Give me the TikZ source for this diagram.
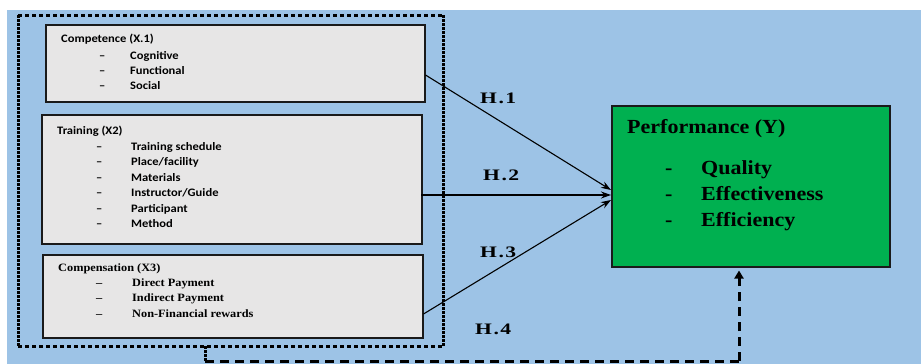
\documentclass[tikz,border=0pt]{standalone}
\usepackage{fontspec}
\setmainfont{Liberation Serif}[FakeStretch=1.1]
\newfontfamily\calfont{Carlito}[FakeStretch=1.1,Ligatures=TeX]
\newfontfamily\hfont{Liberation Serif}[FakeStretch=1.35]
\usetikzlibrary{arrows.meta}
\definecolor{bgblue}{HTML}{9DC3E6}
\definecolor{boxgray}{HTML}{E7E6E6}
\definecolor{perfgreen}{HTML}{00B050}
\definecolor{edge}{HTML}{1A1A1A}
\tikzset{
  lbox/.style={draw=edge, line width=1.5pt, fill=boxgray, anchor=north west, inner sep=0pt},
  pbox/.style={draw=edge, line width=1.5pt, fill=perfgreen, anchor=north west, inner sep=0pt},
  txt/.style={anchor=base west, inner sep=0pt},
  caltxt/.style={txt, font=\calfont\bfseries\fontsize{11.4}{13}\selectfont},
  tmstxt/.style={txt, font=\bfseries\fontsize{11.2}{13}\selectfont},
  bigtxt/.style={txt, font=\bfseries\fontsize{20}{24}\selectfont},
  hlabel/.style={txt, font=\hfont\bfseries\fontsize{16}{18}\selectfont},
  conn/.style={draw=black, line width=1.1pt, -{Stealth[length=10pt,width=7pt]}},
  grpH/.style={draw=black, line width=3pt, dash pattern=on 4pt off 3pt},
  grpV/.style={draw=black, line width=3pt, dash pattern=on 2.5pt off 1.5pt},
  fbdash/.style={draw=black, line width=3pt, dash pattern=on 9pt off 6pt},
}
\begin{document}
\begin{tikzpicture}[x=1pt,y=-1pt]
\useasboundingbox (0,0) rectangle (921,364);
\fill[white] (0,0) rectangle (921,364);
\fill[bgblue] (7,10) rectangle (921,364);

% group (dotted) frame
\node[anchor=north west, minimum width=425pt, minimum height=331pt, inner sep=0pt] (grp) at (18,15) {};
\draw[grpH] (grp.north west) -- (grp.north east);
\draw[grpH] (grp.south west) -- (grp.south east);
\draw[grpV] (grp.north west) -- (grp.south west);
\draw[grpV] (grp.north east) -- (grp.south east);

% Box 1
\node[lbox, minimum width=379pt, minimum height=77pt] (b1) at (45,24) {};
\node[caltxt] (b1t) at (61,42) {Competence (X.1)};
\node[caltxt] (b1d1) at (99,59) {\textendash};
\node[caltxt] (b1i1) at (130,59) {Cognitive};
\node[caltxt] (b1d2) at (99,74) {\textendash};
\node[caltxt] (b1i2) at (130,74) {Functional};
\node[caltxt] (b1d3) at (99,89) {\textendash};
\node[caltxt] (b1i3) at (130,89) {Social};

% Box 2
\node[lbox, minimum width=380pt, minimum height=129pt] (b2) at (41,114) {};
\node[caltxt] (b2t) at (57,134) {Training (X2)};
\node[caltxt] (b2d1) at (96,150) {\textendash};
\node[caltxt] (b2i1) at (131,150) {Training schedule};
\node[caltxt] (b2d2) at (96,165.5) {\textendash};
\node[caltxt] (b2i2) at (131,165.5) {Place/facility};
\node[caltxt] (b2d3) at (96,181) {\textendash};
\node[caltxt] (b2i3) at (131,181) {Materials};
\node[caltxt] (b2d4) at (96,196.5) {\textendash};
\node[caltxt] (b2i4) at (131,196.5) {Instructor/Guide};
\node[caltxt] (b2d5) at (96,212) {\textendash};
\node[caltxt] (b2i5) at (131,212) {Participant};
\node[caltxt] (b2d6) at (96,227.5) {\textendash};
\node[caltxt] (b2i6) at (131,227.5) {Method};

% Box 3
\node[lbox, minimum width=380pt, minimum height=83pt] (b3) at (42,254) {};
\node[tmstxt] (b3t) at (58,271) {Compensation (X3)};
\node[tmstxt] (b3d1) at (96,286) {\textendash};
\node[tmstxt] (b3i1) at (132,286) {Direct Payment};
\node[tmstxt] (b3d2) at (96,301.5) {\textendash};
\node[tmstxt] (b3i2) at (132,301.5) {Indirect Payment};
\node[tmstxt] (b3d3) at (96,317) {\textendash};
\node[tmstxt] (b3i3) at (132,317) {Non-Financial rewards};

% Performance box
\node[pbox, minimum width=278pt, minimum height=161pt] (perf) at (611,105) {};
\node[bigtxt] (pt) at (627,133.5) {Performance (Y)};
\node[bigtxt] (pd1) at (665,174) {-};
\node[bigtxt] (pi1) at (701,174) {Quality};
\node[bigtxt] (pd2) at (665,200) {-};
\node[bigtxt] (pi2) at (701,200) {Effectiveness};
\node[bigtxt] (pd3) at (665,226) {-};
\node[bigtxt] (pi3) at (701,226) {Efficiency};

% connector anchor points
\path (b1.north east) ++(0,51) coordinate (s1);
\path (b2.north west) ++(380,81) coordinate (s2);
\path (b3.north east) ++(0,60) coordinate (s3);
\path (perf.north west) ++(0,85) coordinate (t1);
\path (perf.north west) ++(0,90) coordinate (t2);
\path (perf.north west) ++(0,95) coordinate (t3);

\draw[conn] (s1) -- (t1);
\draw[conn] (s2) -- (t2);
\draw[conn] (s3) -- (t3);

% hypothesis labels
\node[hlabel] (h1) at (480,103) {H\hspace{1.5pt}.\hspace{1.5pt}1};
\node[hlabel] (h2) at (483,180) {H\hspace{1.5pt}.\hspace{1.5pt}2};
\node[hlabel] (h3) at (480,257) {H\hspace{1.5pt}.\hspace{1.5pt}3};
\node[hlabel] (h4) at (475,334) {H\hspace{1.5pt}.\hspace{1.5pt}4};

% feedback dashed connector
\coordinate (f1) at (205,361);
\coordinate (f2) at (739,361);
\draw[draw=black, line width=3pt, dash pattern=on 2.5pt off 1.5pt] (grp.south -| f1) -- (f1);
\draw[fbdash] (f1) -- (f2);
\draw[fbdash, -{Triangle[length=8pt,width=9pt]}, shorten >=3pt] (f2) -- (f2 |- perf.south);
\end{tikzpicture}
\end{document}
